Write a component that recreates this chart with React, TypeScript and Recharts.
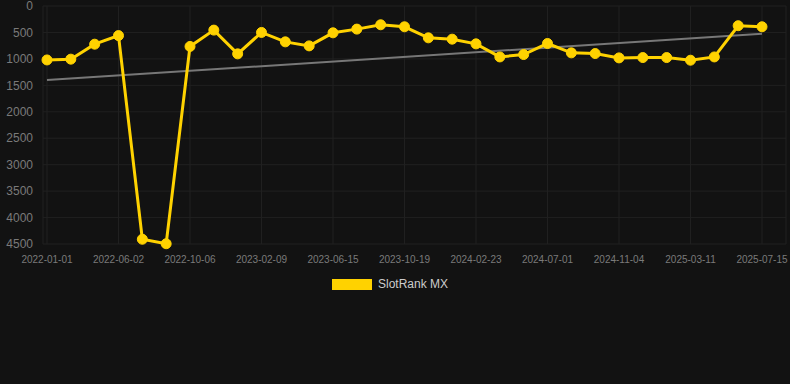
import React from "react";
import { LineChart, Line, XAxis, YAxis, CartesianGrid, Legend } from "recharts";

const dates = [
  "2022-01-01", "2022-02-20", "2022-04-11", "2022-06-02", "2022-07-14", "2022-08-25",
  "2022-10-06", "2022-11-17", "2022-12-29", "2023-02-09", "2023-03-23", "2023-05-04",
  "2023-06-15", "2023-07-27", "2023-09-07", "2023-10-19", "2023-11-30", "2024-01-11",
  "2024-02-23", "2024-04-05", "2024-05-18", "2024-07-01", "2024-08-11", "2024-09-22",
  "2024-11-04", "2024-12-15", "2025-01-27", "2025-03-11", "2025-04-22", "2025-06-03",
  "2025-07-15",
];

const rankValues = [
  1020, 1005, 722, 560, 4410, 4495, 765, 456, 905, 500, 678, 754, 507, 437, 355, 393,
  602, 627, 716, 963, 918, 709, 886, 899, 981, 975, 975, 1025, 963, 373, 393,
];

const trendStart = 1400;
const trendEnd = 525;

const yTicks = [0, 500, 1000, 1500, 2000, 2500, 3000, 3500, 4000, 4500];

const seriesName = "SlotRank MX";
const yellow = "#ffd200";

const data = dates.map((d, i) => ({
  date: d,
  rank: rankValues[i],
  trend: i === 0 ? trendStart : i === dates.length - 1 ? trendEnd : null,
}));

const LegendContent = () => (
  <div
    style={{
      display: "flex",
      justifyContent: "center",
      alignItems: "center",
      height: 20,
      paddingRight: 6,
      fontFamily: "Liberation Sans, Arial, sans-serif",
      fontSize: 12,
      color: "#cccccc",
    }}
  >
    <span style={{ display: "inline-block", width: 40, height: 11, background: yellow, marginRight: 6 }} />
    <span>{seriesName}</span>
  </div>
);

export default function App() {
  return (
    <div style={{ position: "fixed", left: 0, top: 0, width: 790, height: 384, background: "#121212" }}>
      <LineChart
        width={790}
        height={384}
        data={data}
        margin={{ top: 6, right: 4, left: 0, bottom: 90 }}
      >
        <CartesianGrid stroke="#202020" strokeWidth={1} />
        <XAxis
          dataKey="date"
          interval={2}
          axisLine={false}
          tickLine={false}
          padding={{ left: 4, right: 24 }}
          height={30}
          tick={{ fill: "#7a7a7a", fontSize: 10, fontFamily: "Liberation Sans, Arial, sans-serif" }}
          tickMargin={6}
        />
        <YAxis
          reversed
          domain={[0, 4500]}
          ticks={yTicks}
          width={43}
          axisLine={false}
          tickLine={false}
          interval={0}
          tick={{ fill: "#7a7a7a", fontSize: 12, fontFamily: "Liberation Sans, Arial, sans-serif", dx: -2 }}
        />
        <Legend verticalAlign="bottom" content={<LegendContent />} />
        <Line
          dataKey="trend"
          stroke="#777777"
          strokeWidth={2}
          dot={false}
          connectNulls
          isAnimationActive={false}
          legendType="none"
        />
        <Line
          dataKey="rank"
          name={seriesName}
          stroke={yellow}
          strokeWidth={3}
          dot={{ r: 5, fill: yellow, stroke: yellow, strokeWidth: 1 }}
          activeDot={false}
          isAnimationActive={false}
        />
      </LineChart>
    </div>
  );
}
